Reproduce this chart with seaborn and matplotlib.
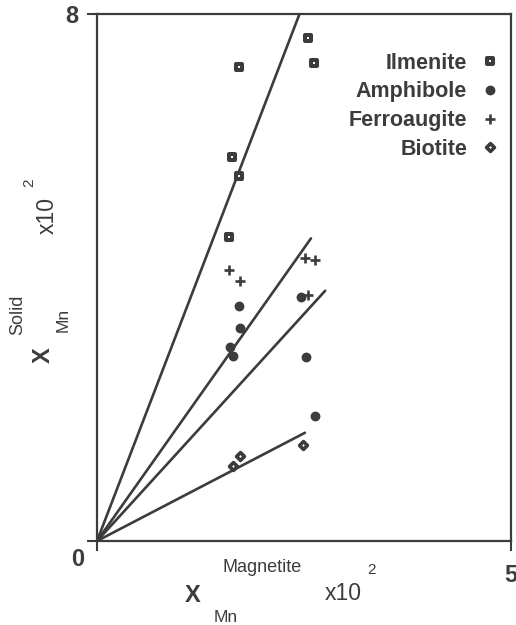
import numpy as np
import pandas as pd
import matplotlib
matplotlib.use("Agg")
import matplotlib.pyplot as plt
import seaborn as sns

# values (x10^2 mole fractions)
ilmenite_x = [1.72, 2.545, 2.62, 1.634, 1.72, 1.594]
ilmenite_y = [7.19, 7.64, 7.26, 5.83, 5.54, 4.62]
amphibole_x = [1.72, 1.727, 1.606, 1.646, 2.46, 2.524, 2.637]
amphibole_y = [3.57, 3.23, 2.94, 2.81, 3.70, 2.79, 1.90]
ferroaugite_x = [1.594, 1.727, 2.51, 2.63, 2.55]
ferroaugite_y = [4.11, 3.95, 4.30, 4.26, 3.73]
biotite_x = [1.727, 1.646, 2.49]
biotite_y = [1.29, 1.14, 1.46]

# partition lines through the origin
line_slopes = [3.27, 1.777, 1.378, 0.654]
line_xend = [2.6, 2.585, 2.757, 2.512]

minerals = ["Ilmenite", "Amphibole", "Ferroaugite", "Biotite"]

pts = pd.concat([
    pd.DataFrame({"x": ilmenite_x, "y": ilmenite_y, "mineral": "Ilmenite"}),
    pd.DataFrame({"x": amphibole_x, "y": amphibole_y, "mineral": "Amphibole"}),
    pd.DataFrame({"x": ferroaugite_x, "y": ferroaugite_y, "mineral": "Ferroaugite"}),
    pd.DataFrame({"x": biotite_x, "y": biotite_y, "mineral": "Biotite"}),
], ignore_index=True)

lines = pd.concat([
    pd.DataFrame({"x": [0, xe], "y": [0, s * xe], "line": i})
    for i, (s, xe) in enumerate(zip(line_slopes, line_xend))
], ignore_index=True)

sns.set_style("white")
plt.rcParams['font.family'] = ['Liberation Sans', 'DejaVu Sans']
ink = "#3c3c3c"

fig = plt.figure(figsize=(5.16, 6.25), dpi=100)
ax = fig.add_axes([0.188, 0.1344, 0.802, 0.8432])

sns.lineplot(data=lines, x="x", y="y", units="line", estimator=None,
             color=ink, linewidth=1.9, ax=ax, legend=False)

# marker looks per mineral
styles = {
    "Ilmenite": dict(marker="s", s=22, facecolor="white", edgecolor=ink, linewidth=2.9),
    "Amphibole": dict(marker="o", s=50, color=ink, linewidth=0),
    "Ferroaugite": dict(marker="+", s=60, color=ink, linewidth=1.9),
    "Biotite": dict(marker="D", s=16, facecolor="white", edgecolor=ink, linewidth=2.6),
}
for m in minerals:
    d = pts[pts.mineral == m]
    sns.scatterplot(data=d, x="x", y="y", ax=ax, label=m, zorder=3, **styles[m])

ax.set_xlim(0, 5)
ax.set_ylim(0, 8)
ax.set_xticks([0, 5])
ax.set_xticklabels(["", "5"])
ax.set_yticks([0, 8])
ax.set_yticklabels(["", "8"])
ax.tick_params(bottom=True, left=True, direction="out", length=7.5, width=1.5,
               color=ink, labelsize=17, labelcolor=ink)
ax.tick_params(axis="x", pad=9)
ax.tick_params(axis="y", pad=6)
for t in ax.get_xticklabels() + ax.get_yticklabels():
    t.set_fontweight("bold")
for sp in ax.spines.values():
    sp.set_visible(True)
    sp.set_color(ink)
    sp.set_linewidth(1.6)
ax.set_xlabel("")
ax.set_ylabel("")

ax.annotate("0", xy=(0, 0), xycoords="data", xytext=(-19, -19),
            textcoords="offset pixels", ha="center", va="center",
            fontsize=17, fontweight="bold", color=ink)

leg = ax.legend(markerfirst=False, frameon=False, loc="upper right",
                bbox_to_anchor=(0.997, 0.947), prop={"weight": "bold", "size": 15.5},
                labelspacing=0.36, handlelength=0.8, handletextpad=0.67,
                borderpad=0, scatterpoints=1, scatteryoffsets=[0.5])
for t in leg.get_texts():
    t.set_color(ink)

# composite axis labels
def px(x, y, s, **kw):
    fig.text(x / 516, 1 - y / 625, s, ha="center", va="center", color=ink, **kw)

px(193, 595, "X", fontsize=17, fontweight="bold")
px(262, 567, "Magnetite", fontsize=13)
px(226, 617, "Mn", fontsize=12.5)
px(343, 593, "x10", fontsize=16.5)
px(372, 570, "2", fontsize=11)

px(43, 355, "X", fontsize=17, fontweight="bold", rotation=90)
px(18, 315, "Solid", fontsize=13, rotation=90)
px(63, 320, "Mn", fontsize=12.5, rotation=90)
px(47, 215, "x10", fontsize=16.5, rotation=90)
px(29, 183, "2", fontsize=11, rotation=90)

fig.savefig("out.png", dpi=100)
